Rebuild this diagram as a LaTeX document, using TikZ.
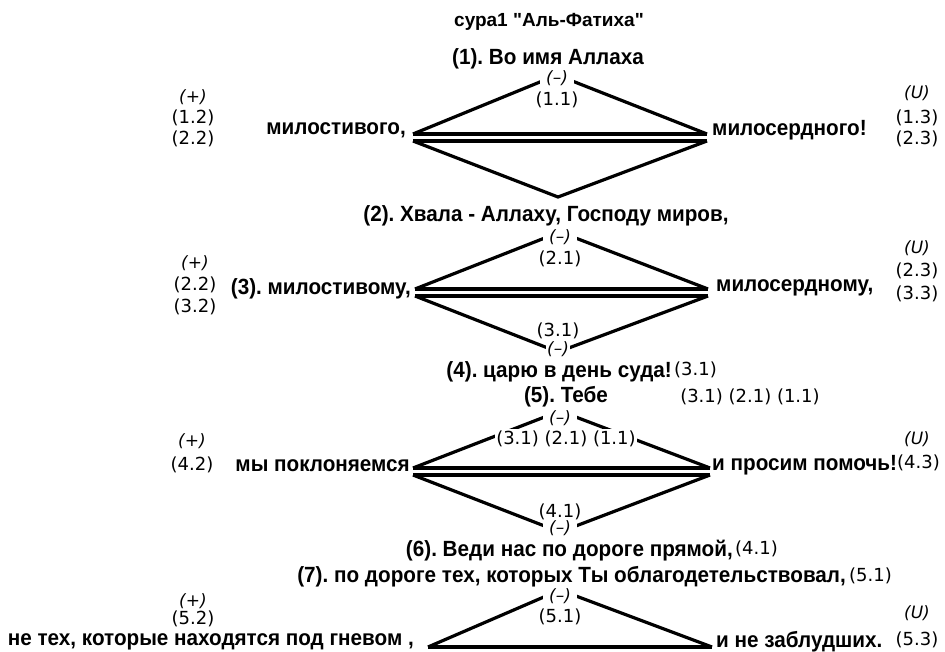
\documentclass[tikz,border=0pt]{standalone}
\usepackage{fontspec}
\setmainfont{Liberation Sans}
\newfontfamily\hfont[FakeStretch=0.94]{Liberation Sans}
\newfontfamily\tfont{Liberation Sans}
\newfontfamily\lfont{DejaVu Sans}
\frenchspacing
\tikzset{
  hb/.style={font=\frenchspacing\hfont\bfseries\fontsize{22}{26}\selectfont, inner sep=0pt},
  tt/.style={font=\frenchspacing\tfont\bfseries\fontsize{19}{22}\selectfont, inner sep=0pt},
  lb/.style={font=\lfont\fontsize{18}{21}\selectfont, inner sep=0pt},
  sg/.style={font=\lfont\itshape\fontsize{17}{19}\selectfont, inner sep=1pt},
  cut/.style={fill=white, inner xsep=6pt, inner ysep=2pt},
  ln/.style={line width=3.2pt},
}
\begin{document}
\begin{tikzpicture}[x=1pt,y=-1pt]
\useasboundingbox[fill=white] (0,0) rectangle (945,652);
% ---- vertices
\coordinate (L1) at (413,134); \coordinate (R1) at (707,134);
\coordinate (L1b) at (413,141); \coordinate (R1b) at (707,141);
\coordinate (T1) at (557,75); \coordinate (B1) at (558,197);
\coordinate (L2) at (415,289); \coordinate (R2) at (708,289);
\coordinate (L2b) at (415,296); \coordinate (R2b) at (708,296);
\coordinate (T2) at (560,232); \coordinate (B2) at (558,352);
\coordinate (L3) at (413,468); \coordinate (R3) at (710,468);
\coordinate (L3b) at (413,475); \coordinate (R3b) at (710,475);
\coordinate (T3) at (560,411); \coordinate (B3) at (560,532);
\coordinate (L4) at (428,647); \coordinate (R4) at (712,647);
\coordinate (T4) at (560,590);
% ---- lines
\draw[ln] (L1) -- (T1) -- (R1);
\draw[ln] (L1) -- (R1);
\draw[ln] (L1b) -- (R1b);
\draw[ln] (L1b) -- (B1) -- (R1b);
\draw[ln] (L2) -- (T2) -- (R2);
\draw[ln] (L2) -- (R2);
\draw[ln] (L2b) -- (R2b);
\draw[ln] (L2b) -- (B2) -- (R2b);
\draw[ln] (L3) -- (T3) -- (R3);
\draw[ln] (L3) -- (R3);
\draw[ln] (L3b) -- (R3b);
\draw[ln] (L3b) -- (B3) -- (R3b);
\draw[ln] (L4) -- (T4) -- (R4);
\draw[ln] (L4) -- (R4);
% ---- title
\node[tt] (title) at (549,22) {сура1 "Аль-Фатиха"};
% ---- block 1
\node[hb] (h1) at (548,59) {(1). Во имя Аллаха};
\node[sg,cut] (m1) at (557,78) {(–)};
\node[lb] (n11) at (557,100) {(1.1)};
\node[sg] (p1) at (193,97) {(+)};
\node[lb] (n12) at (193,118) {(1.2)};
\node[lb] (n22a) at (193,139) {(2.2)};
\node[hb,anchor=east] (w1l) at (406,130) {милостивого,};
\node[hb,anchor=west] (w1r) at (712,130) {милосердного!};
\node[sg] (u1) at (917,93) {(U)};
\node[lb] (n13) at (917,118) {(1.3)};
\node[lb] (n23a) at (917,139) {(2.3)};
% ---- block 2
\node[hb] (h2) at (546,216) {(2). Хвала - Аллаху, Господу миров,};
\node[sg,cut] (m2) at (560,237) {(–)};
\node[lb] (n21) at (560,259) {(2.1)};
\node[lb] (n31a) at (558,331) {(3.1)};
\node[sg,cut,inner xsep=1pt,inner ysep=0pt] (m2b) at (558,349) {(–)};
\node[sg] (p2) at (195,263) {(+)};
\node[lb] (n22b) at (195,285) {(2.2)};
\node[lb] (n32) at (195,307) {(3.2)};
\node[hb,anchor=east] (w2l) at (411,289) {(3). милостивому,};
\node[hb,anchor=west] (w2r) at (716,288) {милосердному,};
\node[sg] (u2) at (917,248) {(U)};
\node[lb] (n23b) at (917,271) {(2.3)};
\node[lb] (n33) at (917,294) {(3.3)};
% ---- lines 4, 5
\node[hb,anchor=east] (h4) at (672,372) {(4). царю в день суда!};
\node[lb,anchor=west] (r4) at (674,370) {(3.1)};
\node[hb] (h5) at (566,397) {(5). Тебе};
\node[lb] (r5) at (750,397) {(3.1) (2.1) (1.1)};
% ---- block 3
\node[sg,cut] (m3) at (560,418) {(–)};
\node[lb,cut,inner xsep=1pt] (n3) at (566,439) {(3.1) (2.1) (1.1)};
\node[lb,cut,inner xsep=1pt,inner ysep=0pt] (n41a) at (560,512) {(4.1)};
\node[sg,cut,inner ysep=0pt] (m3b) at (560,528) {(–)};
\node[sg] (p3) at (192,441) {(+)};
\node[lb] (n42) at (192,465) {(4.2)};
\node[hb,anchor=east] (w3l) at (410,466) {мы поклоняемся};
\node[hb,anchor=west] (w3r) at (712,465) {и просим помочь!};
\node[sg] (u3) at (917,439) {(U)};
\node[lb,anchor=west] (n43) at (897,463) {(4.3)};
% ---- lines 6, 7
\node[hb,anchor=east] (h6) at (733,551) {(6). Веди нас по дороге прямой,};
\node[lb,anchor=west] (r6) at (735,549) {(4.1)};
\node[hb,anchor=east] (h7) at (846,577) {(7). по дороге тех, которых Ты облагодетельствовал,};
\node[lb,anchor=west] (r7) at (849,576) {(5.1)};
% ---- block 4
\node[sg,cut] (m4) at (560,596) {(–)};
\node[lb] (n51) at (560,617) {(5.1)};
\node[sg] (p4) at (193,601) {(+)};
\node[lb] (n52) at (193,619) {(5.2)};
\node[hb,anchor=east] (w4l) at (414,642) {не тех, которые находятся под гневом ,};
\node[hb,anchor=west] (w4r) at (716,642) {и не заблудших.};
\node[sg] (u4) at (917,613) {(U)};
\node[lb] (n53) at (917,640) {(5.3)};
\end{tikzpicture}
\end{document}
